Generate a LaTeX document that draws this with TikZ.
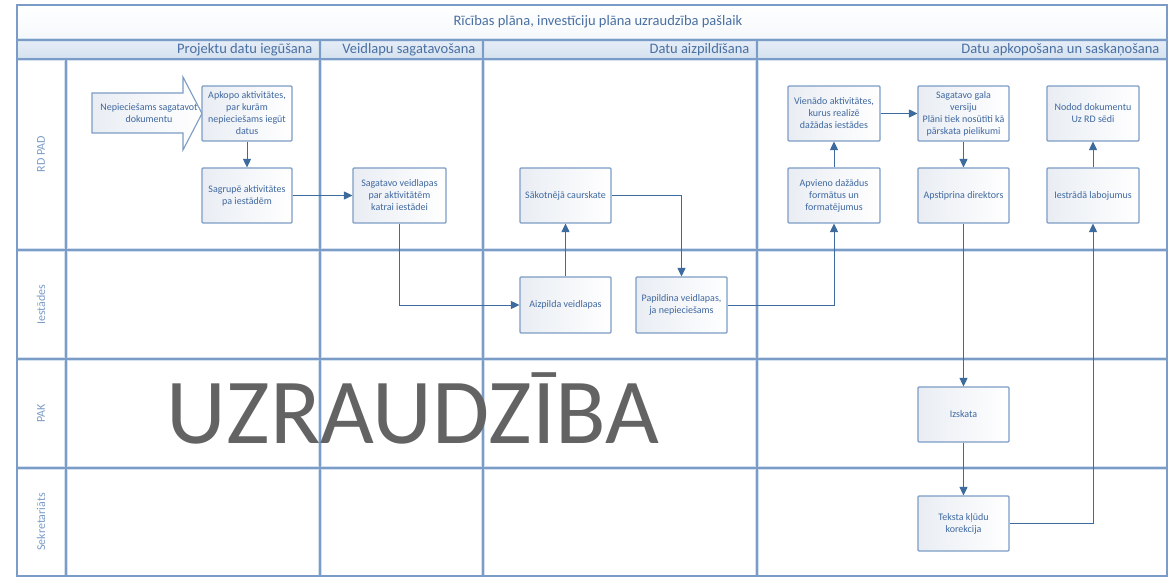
\documentclass[tikz,border=0pt]{standalone}
\usepackage{fontspec}
\setmainfont{Carlito}
\usetikzlibrary{arrows.meta}
\definecolor{lanec}{HTML}{7A9CC6}
\definecolor{laneglow}{HTML}{D3E0EF}
\definecolor{conc}{HTML}{3E6B9E}
\definecolor{txtc}{HTML}{3F68A0}
\definecolor{hdrtxt}{HTML}{4A70A2}
\definecolor{lanetxt}{HTML}{7D9DC8}
\definecolor{boxc}{HTML}{7C9CC4}
\definecolor{boxg}{HTML}{E9EDF3}
\definecolor{hdrtop}{HTML}{E6EEF7}
\definecolor{hdrbot}{HTML}{D5E1EF}
\definecolor{bigc}{HTML}{636363}
\begin{document}
\begin{tikzpicture}[x=1pt,y=-1pt,
  proc/.style={draw=boxc, line width=1.1pt, rounded corners=1pt,
    left color=boxg, right color=white, text=txtc,
    font=\fontsize{10}{12}\selectfont, align=center,
    minimum height=55pt, inner sep=1pt},
  con/.style={draw=conc, line width=0.9pt, -{Triangle[length=8.5pt,width=8pt]}},
  lane/.style={draw=lanec, line width=1.2pt},
  glow/.style={draw=laneglow, line width=3.5pt},
  lanelab/.style={rotate=90, text=lanetxt, font=\fontsize{12}{14}\selectfont},
  phaselab/.style={anchor=east, text=hdrtxt, font=\fontsize{14.5}{16}\selectfont},
]
\useasboundingbox (0,0) rectangle (1168,577);
\fill[white] (0,0) rectangle (1168,577);
% bands
\shade[top color=white, bottom color=hdrtop!40] (17,5) rectangle (1167,40);
\shade[top color=hdrtop, bottom color=hdrbot] (17,40) rectangle (1167,59);
% glow
\foreach \yy in {40,59,250,359,468} {\draw[glow] (17,\yy) -- (1167,\yy);}
\foreach \xx in {320,483,757} {\draw[glow] (\xx,40) -- (\xx,576);}
\draw[glow] (66,59) -- (66,576);
% lines
\draw[lane] (17,5) rectangle (1167,576);
\foreach \yy in {40,59,250,359,468} {\draw[lane] (17,\yy) -- (1167,\yy);}
\foreach \xx in {320,483,757} {\draw[lane] (\xx,40) -- (\xx,576);}
\draw[lane] (66,59) -- (66,576);
% title & headers
\node[text=hdrtxt, font=\fontsize{14.5}{16}\selectfont] (title) at (598,22) {Rīcības plāna, investīciju plāna uzraudzība pašlaik};
\node[phaselab] (ph1) at (316,49.5) {Projektu datu iegūšana};
\node[phaselab] (ph2) at (479,49.5) {Veidlapu sagatavošana};
\node[phaselab] (ph3) at (753,49.5) {Datu aizpildīšana};
\node[phaselab] (ph4) at (1163,49.5) {Datu apkopošana un saskaņošana};
\node[lanelab] (l1) at (41,154) {RD PAD};
\node[lanelab] (l2) at (41,304.5) {Iestādes};
\node[lanelab] (l3) at (41,413.5) {PAK};
\node[lanelab] (l4) at (41,522) {Sekretariāts};
% start arrow
\path[draw=boxc, line width=1.1pt, left color=boxg, right color=white]
  (92,93) -- (183,93) -- (183,77) -- (202,113.5) -- (183,150) -- (183,133) -- (92,133) -- cycle;
\node[text=txtc, font=\fontsize{10}{12}\selectfont, align=center] (start) at (149,113) {Nepieciešams sagatavot\\dokumentu};
% boxes
\node[proc, minimum width=90pt] (apkopo) at (247,113.5) {Apkopo aktivitātes,\\par kurām\\nepieciešams iegūt\\datus};
\node[proc, minimum width=90pt] (sagrupe) at (247,195.5) {Sagrupē aktivitātes\\pa iestādēm};
\node[proc, minimum width=93pt] (sagatavo) at (399.5,195.5) {Sagatavo veidlapas\\par aktivitātēm\\katrai iestādei};
\node[proc, minimum width=91pt] (sakot) at (565.5,195.5) {Sākotnējā caurskate};
\node[proc, minimum width=91pt, minimum height=56pt] (aizp) at (565.5,305) {Aizpilda veidlapas};
\node[proc, minimum width=91pt, minimum height=56pt] (papild) at (681.5,305) {Papildina veidlapas,\\ja nepieciešams};
\node[proc, minimum width=92pt] (vienado) at (834,113.5) {Vienādo aktivitātes,\\kurus realizē\\dažādas iestādes};
\node[proc, minimum width=91pt] (gala) at (963.5,113.5) {Sagatavo gala\\versiju\\Plāni tiek nosūtīti kā\\pārskata pielikumi};
\node[proc, minimum width=92pt] (nodod) at (1093,113.5) {Nodod dokumentu\\Uz RD sēdi};
\node[proc, minimum width=92pt] (apvieno) at (834,195.5) {Apvieno dažādus\\formātus un\\formatējumus};
\node[proc, minimum width=91pt] (apstip) at (963.5,195.5) {Apstiprina direktors};
\node[proc, minimum width=92pt] (iestr) at (1093,195.5) {Iestrādā labojumus};
\node[proc, minimum width=91pt] (izskata) at (963.5,414.5) {Izskata};
\node[proc, minimum width=91pt] (teksta) at (963.5,523.5) {Teksta kļūdu\\korekcija};
% connectors
\draw[con] (apkopo) -- (sagrupe);
\draw[con] (sagrupe) -- (sagatavo);
\draw[con] (sagatavo.south) |- (aizp.west);
\draw[con] (aizp) -- (sakot);
\draw[con] (sakot.east) -| (papild.north);
\draw[con] (papild.east) -| (apvieno.south);
\draw[con] (apvieno) -- (vienado);
\draw[con] (vienado) -- (gala);
\draw[con] (gala) -- (apstip);
\draw[con] (apstip) -- (izskata);
\draw[con] (izskata) -- (teksta);
\draw[con] (teksta.east) -| (iestr.south);
\draw[con] (iestr) -- (nodod);
% big overlay text
\node[anchor=base, inner sep=0pt, text=bigc, font=\fontsize{93}{100}\selectfont] (big) at (413,443) {UZRAUDZĪBA};
\end{tikzpicture}
\end{document}
